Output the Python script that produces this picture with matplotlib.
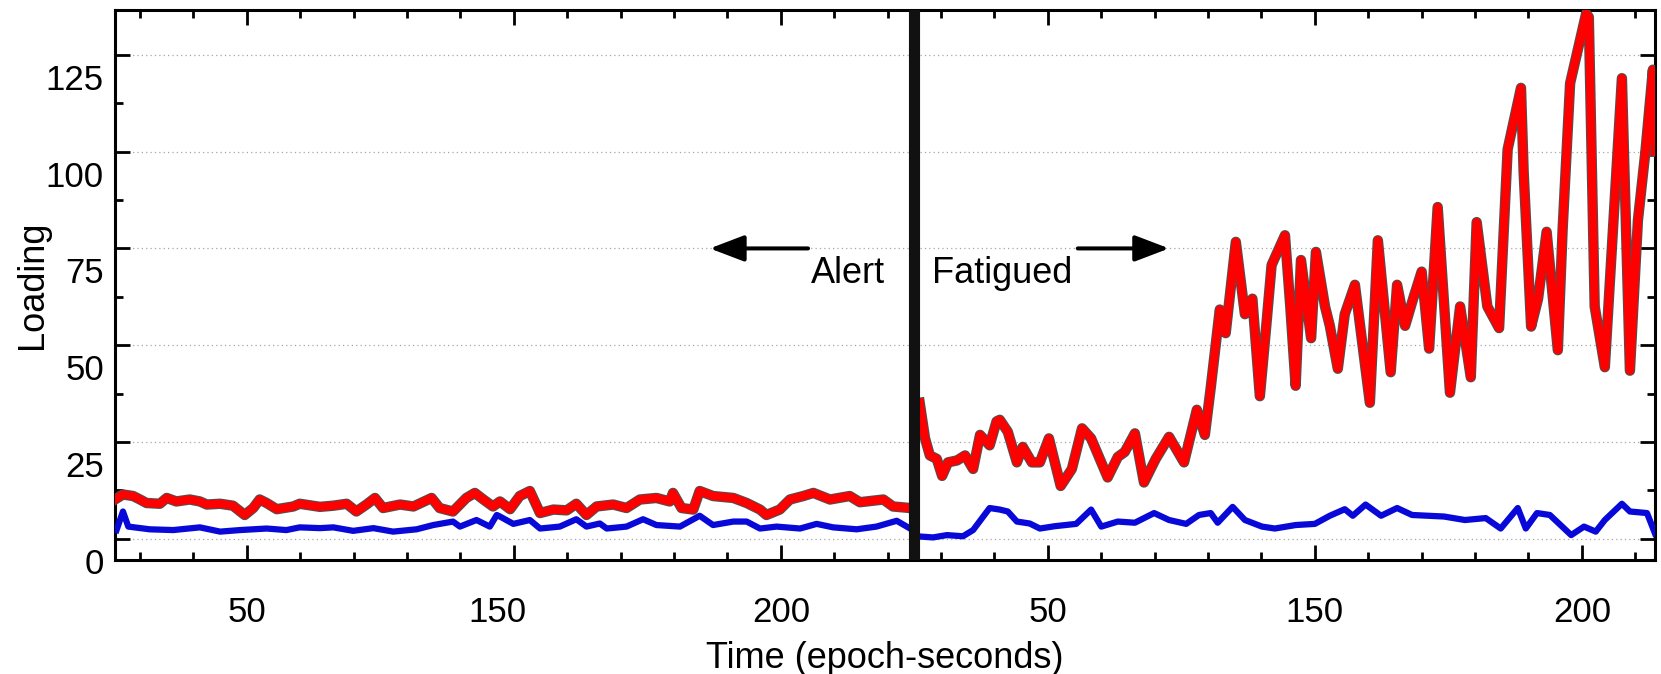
import matplotlib
matplotlib.use("Agg")
import matplotlib.pyplot as plt
import matplotlib.patheffects as pe
from matplotlib.patches import ArrowStyle
from matplotlib.transforms import ScaledTranslation
from matplotlib.ticker import MultipleLocator

plt.rcParams['font.family'] = ['Liberation Sans', 'DejaVu Sans']

# time axis is one continuous run: alert epochs left of the divider, fatigued right
alert_t_red = [25.3, 26.8, 28.7, 30.0, 31.2, 33.7, 35.0, 36.8, 39.3, 41.2, 42.5, 45.0,
               47.4, 49.6, 51.2, 52.4, 53.7, 55.6, 58.7, 59.9, 63.7, 66.2, 68.7, 70.5,
               72.4, 74.0, 75.5, 78.7, 81.2, 84.6, 86.1, 88.6, 91.1, 92.7, 94.3, 96.1,
               97.4, 99.3, 101.1, 103.0, 104.9, 107.4, 109.9, 111.7, 113.6, 115.5, 118.6,
               121.1, 123.6, 126.7, 129.2, 129.8, 131.4, 133.6, 134.8, 137.3, 141.1,
               143.6, 146.1, 147.3, 149.8, 151.7, 154.2, 156.1, 159.2, 162.9, 164.8,
               169.2, 171.0, 174.2]
alert_red = [10.1, 11.4, 11.0, 10.1, 9.2, 9.0, 10.5, 9.6, 10.1, 9.6, 8.8, 9.0,
             8.5, 6.1, 7.9, 10.1, 9.2, 7.6, 8.3, 9.0, 8.2, 8.5, 9.0, 7.0,
             8.8, 10.5, 7.9, 8.8, 8.3, 10.5, 7.9, 7.0, 10.5, 11.8, 10.1, 8.3,
             9.6, 7.6, 11.0, 12.3, 6.6, 7.5, 7.3, 9.0, 6.1, 8.3, 8.8,
             7.9, 10.1, 10.5, 9.6, 11.8, 7.9, 7.5, 12.3, 11.0, 10.5,
             9.2, 7.5, 6.1, 7.5, 10.1, 11.0, 11.8, 10.1, 11.0, 9.4,
             10.1, 8.3, 7.9]

alert_t_blue = [25.6, 26.8, 27.8, 31.8, 36.2, 41.2, 45.0, 48.7, 53.7, 57.4, 59.9, 63.7,
                66.2, 69.9, 73.7, 77.4, 81.8, 84.9, 88.6, 89.9, 93.0, 95.5, 96.8, 97.4,
                99.9, 103.0, 104.9, 108.6, 111.7, 113.6, 116.1, 117.4, 121.1, 124.2,
                126.7, 131.1, 134.8, 137.3, 141.1, 143.6, 146.1, 149.2, 153.6, 156.7,
                159.8, 164.2, 167.9, 171.7, 174.2]
alert_blue = [2.2, 7.0, 3.1, 2.4, 2.2, 2.9, 1.8, 2.2, 2.6, 2.2, 2.9, 2.7,
              2.9, 2.0, 2.7, 1.8, 2.4, 3.5, 4.4, 3.1, 4.8, 3.1, 6.1, 5.7,
              3.8, 4.8, 2.6, 3.1, 5.0, 3.1, 3.9, 2.6, 3.1, 5.0,
              3.5, 3.1, 5.9, 3.5, 4.4, 4.4, 2.6, 3.1, 2.6, 3.8,
              2.9, 2.4, 3.1, 4.6, 2.6]

fatigue_t_red = [176.0, 177.0, 177.9, 179.2, 180.2, 181.3, 183.0, 184.5, 186.0, 187.3,
                 189.1, 190.4, 191.0, 192.5, 194.2, 195.3, 197.0, 198.5, 200.2, 202.4,
                 204.5, 206.4, 208.1, 211.2, 213.1, 214.4, 216.3, 218.0, 220.2, 222.7,
                 225.5, 227.9, 229.4, 230.5, 232.2, 233.3, 235.2, 236.9, 238.3, 239.7,
                 240.9, 241.9, 244.4, 245.4, 246.4, 247.4, 249.3, 250.2, 251.9, 252.8,
                 254.3, 255.6, 257.5, 260.3, 261.8, 264.2, 265.4, 266.9, 268.4, 270.0,
                 271.4, 273.0, 275.3, 277.2, 279.2, 280.3, 282.3, 284.5, 286.1, 288.6,
                 289.1, 290.5, 291.8, 293.4, 295.5, 296.4, 297.8, 300.8, 301.3, 302.4,
                 304.3, 305.4, 307.5, 309.0, 310.5, 311.9, 313.3, 313.7]
fatigue_red = [35.1, 25.9, 21.5, 20.6, 16.2, 19.7, 20.2, 21.5, 18.0, 26.8,
               24.1, 30.3, 30.7, 27.6, 19.7, 23.7, 19.7, 19.7, 25.9, 13.6,
               18.0, 28.5, 25.9, 15.8, 21.1, 22.4, 27.2, 14.5, 20.6, 26.3,
               19.7, 33.3, 26.8, 39.0, 59.2, 53.1, 76.7, 58.0, 62.0, 36.8,
               55.0, 70.7, 78.4, 60.0, 39.5, 72.0, 51.8, 74.1, 60.0, 55.0,
               43.9, 58.0, 65.6, 35.1, 77.1, 43.0, 65.6, 55.0, 62.0, 69.0,
               49.1, 85.7, 37.7, 60.0, 41.7, 81.8, 60.0, 54.4, 100.6, 116.5,
               94.7, 54.8, 62.0, 79.3, 48.7, 80.0, 117.7, 135.7, 134.8, 60.0,
               44.3, 70.0, 119.0, 43.4, 82.3, 100.0, 121.2, 100.0]

fatigue_t_blue = [176.4, 178.5, 181.1, 184.1, 186.0, 189.1, 191.0, 192.5, 194.2, 196.6,
                  198.5, 201.3, 205.3, 208.1, 210.0, 213.1, 216.3, 219.9, 222.7, 225.9,
                  228.3, 230.5, 231.8, 234.6, 236.9, 240.1, 242.5, 246.4, 250.0, 252.8,
                  255.6, 257.1, 259.5, 262.4, 265.4, 268.2, 274.2, 278.1, 282.0, 284.8,
                  288.0, 289.5, 291.6, 294.0, 298.0, 300.4, 302.6, 304.3, 307.5, 309.0,
                  312.2, 313.7]
fatigue_blue = [0.5, 0.3, 0.9, 0.6, 2.2, 7.9, 7.5, 7.0, 4.4, 3.9,
                2.6, 3.2, 3.8, 7.5, 3.1, 4.4, 4.1, 6.6, 4.8, 3.8,
                6.1, 6.6, 4.1, 8.2, 4.8, 3.1, 2.6, 3.5, 3.8, 5.9,
                7.6, 5.9, 8.8, 5.9, 7.9, 6.1, 5.7, 4.8, 5.3, 2.6,
                7.9, 2.6, 6.6, 6.1, 0.9, 3.1, 1.8, 4.8, 9.0, 7.0,
                6.6, 1.3]

divider_t = 174.9
major_x = [50, 100, 150, 200, 250, 300]
major_x_labels = ['50', '150', '200', '50', '150', '200']
y_ticks = [0, 25, 50, 75, 100, 125]

fig = plt.figure(figsize=(16.61, 6.74), dpi=100)
ax = fig.add_axes([0.0692, 0.169, 0.9272, 0.816])

red_fx = [pe.Stroke(linewidth=7.5, foreground='#505050'), pe.Normal()]
for t, v in [(alert_t_blue, alert_blue), (fatigue_t_blue, fatigue_blue)]:
    ax.plot(t, v, color='#0808d8', lw=4.5, solid_joinstyle='round', zorder=3)
for t, v in [(alert_t_red, alert_red), (fatigue_t_red, fatigue_red)]:
    ax.plot(t, v, color='#ff0000', lw=6, solid_joinstyle='round', zorder=4,
            path_effects=red_fx)

ax.axvline(divider_t, color='#111111', lw=8, zorder=6)

ax.set_xlim(25.3, 313.7)
ax.set_ylim(-5.56, 136.6)

ax.set_xticks(major_x)
ax.set_xticklabels(major_x_labels)
ax.xaxis.set_minor_locator(MultipleLocator(10))
ax.set_yticks(y_ticks)
ax.yaxis.set_minor_locator(MultipleLocator(12.5))

ax.tick_params(which='both', direction='in', top=True, right=True, width=2,
               labelsize=25, colors='black')
ax.tick_params(which='major', length=11)
ax.tick_params(which='minor', length=5.5)
ax.tick_params(axis='x', pad=26)
ax.tick_params(axis='y', pad=8)
for s in ax.spines.values():
    s.set_linewidth(2.2)

ax.yaxis.grid(True, which='major', color='0.65', linestyle=(0, (1, 2.5)),
              linewidth=0.9)
ax.set_axisbelow(True)

# y labels sit a bit below their ticks in the original
down = ScaledTranslation(0, -0.22, fig.dpi_scale_trans)
for lbl in ax.get_yticklabels():
    lbl.set_transform(lbl.get_transform() + down)
left = ScaledTranslation(-0.16, 0, fig.dpi_scale_trans)
xl = ax.get_xticklabels()[1]
xl.set_transform(xl.get_transform() + left)

ax.set_xlabel('Time (epoch-seconds)', fontsize=26)
ax.xaxis.set_label_coords(0.5, -0.148)
ax.set_ylabel('Loading', fontsize=26)
ax.yaxis.set_label_coords(-0.042, 0.5)

head = ArrowStyle('-|>', head_length=1.05, head_width=0.4)
ax.annotate('', xy=(136.7, 75), xytext=(155.1, 75),
            arrowprops=dict(arrowstyle=head, lw=2.9, color='black',
                            mutation_scale=20, shrinkA=0, shrinkB=0))
ax.annotate('', xy=(222.7, 75), xytext=(205.6, 75),
            arrowprops=dict(arrowstyle=head, lw=2.9, color='black',
                            mutation_scale=20, shrinkA=0, shrinkB=0))
ax.text(169.5, 66.05, 'Alert', ha='right', va='baseline', fontsize=26)
ax.text(178.3, 66.05, 'Fatigued', ha='left', va='baseline', fontsize=26)

fig.savefig('out.png', dpi=100)
